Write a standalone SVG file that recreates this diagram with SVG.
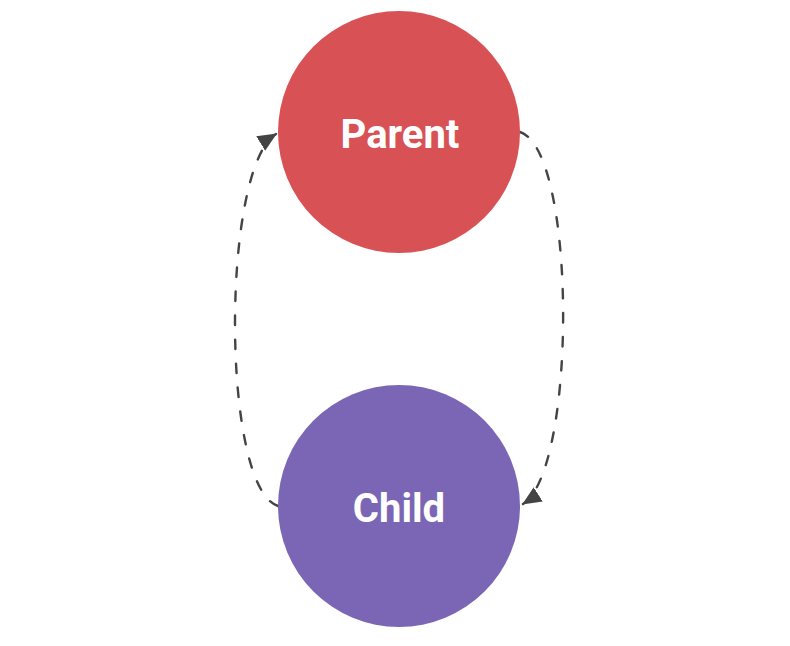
<svg xmlns="http://www.w3.org/2000/svg" width="790" height="646" viewBox="0 0 790 646">
<style>
.lbl{font-family:Roboto,"Liberation Sans",sans-serif;font-weight:bold;font-size:40px;fill:#fff;text-anchor:middle}
.edge{fill:none;stroke:#444;stroke-width:2.4;stroke-linecap:round;stroke-dasharray:9.5 14.5}
</style>
<defs>
<marker id="ah2" markerWidth="20" markerHeight="20" refX="18" refY="10" orient="auto" markerUnits="userSpaceOnUse" viewBox="0 0 20 20">
<path d="M0,1.5 L19,10 L0,18.5 z" fill="#444"/>
</marker>
</defs>
<g id="edges">
<path class="edge" d="M520,132 C577,150 577,470 523,504" marker-end="url(#ah2)"/>
<path class="edge" d="M278,506 C221,488 221,168 276,134" marker-end="url(#ah2)"/>
</g>
<g id="parent">
<circle cx="399" cy="132" r="121" fill="#D85155"/>
<text class="lbl" x="400" y="148">Parent</text>
</g>
<g id="child">
<circle cx="399" cy="506" r="121" fill="#7B66B5"/>
<text class="lbl" x="399" y="522">Child</text>
</g>
</svg>
